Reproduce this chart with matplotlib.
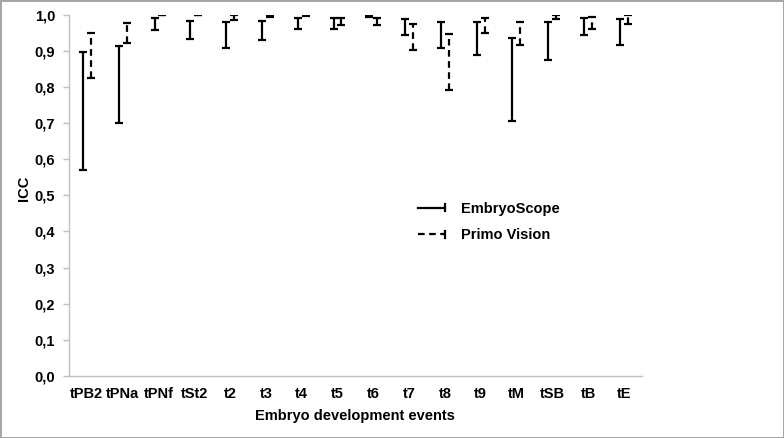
import matplotlib
matplotlib.use("Agg")
import matplotlib.pyplot as plt
import numpy as np
from matplotlib.legend_handler import HandlerBase
from matplotlib.lines import Line2D

categories = ['tPB2', 'tPNa', 'tPNf', 'tSt2', 't2', 't3', 't4', 't5', 't6',
              't7', 't8', 't9', 'tM', 'tSB', 'tB', 'tE']
es_low = [0.571, 0.699, 0.957, 0.934, 0.909, 0.929, 0.961, 0.961, 0.993,
          0.943, 0.908, 0.889, 0.706, 0.875, 0.945, 0.915]
es_high = [0.898, 0.914, 0.991, 0.983, 0.979, 0.983, 0.991, 0.991, 0.999,
           0.989, 0.980, 0.981, 0.935, 0.979, 0.991, 0.989]
pv_low = [0.825, 0.922, 0.998, 0.998, 0.986, 0.995, 0.997, 0.972, 0.972,
          0.901, 0.792, 0.949, 0.917, 0.989, 0.960, 0.974]
pv_high = [0.949, 0.977, 1.000, 1.000, 0.998, 1.000, 1.000, 0.991, 0.991,
           0.975, 0.946, 0.991, 0.980, 0.998, 0.995, 0.998]
yticks = [0.0, 0.1, 0.2, 0.3, 0.4, 0.5, 0.6, 0.7, 0.8, 0.9, 1.0]
series_labels = ['EmbryoScope', 'Primo Vision']

FS = 10.5
plt.rcParams['font.family'] = ['Liberation Sans', 'DejaVu Sans']
plt.rcParams['font.weight'] = 'bold'
plt.rcParams['font.size'] = FS

fig = plt.figure(figsize=(7.84, 4.38), dpi=100, edgecolor='#a6a6a6', linewidth=2)
ax = fig.add_axes([0.088, 0.1416, 0.7305, 0.8248])

x = np.arange(len(categories))
off = 0.11
dash = (0, (3, 2))


def draw(xpos, low, high, ls):
    low = np.array(low)
    high = np.array(high)
    mid = (low + high) / 2
    cont = ax.errorbar(xpos, mid, yerr=[mid - low, high - mid], fmt='none',
                       ecolor='black', elinewidth=1.6, capsize=3.2, capthick=1.6)
    for lc in cont[2]:
        lc.set_linestyle(ls)
    return cont


draw(x - off, es_low, es_high, '-')
draw(x + off, pv_low, pv_high, dash)

ax.set_xlim(-0.5, len(categories) - 0.5)
ax.set_ylim(0, 1.0)
ax.set_xticks(x)
ax.set_xticklabels(categories)
ax.set_yticks(yticks)
ax.set_yticklabels([f"{v:.1f}".replace('.', ',') for v in yticks])
ax.tick_params(axis='x', length=0, pad=8, labelsize=FS)
ax.tick_params(axis='y', length=4, width=1, color='#bfbfbf', pad=6, labelsize=FS)
for s in ['top', 'right']:
    ax.spines[s].set_visible(False)
for s in ['left', 'bottom']:
    ax.spines[s].set_color('#bfbfbf')
    ax.spines[s].set_linewidth(1)

ax.set_xlabel('Embryo development events', fontsize=FS, fontweight='bold', labelpad=6)
ax.set_ylabel('ICC', fontsize=FS, fontweight='bold')
ax.yaxis.set_label_coords(-0.066, 0.52)


class CapHandler(HandlerBase):
    def __init__(self, ls):
        super().__init__()
        self.ls = ls

    def create_artists(self, legend, orig_handle, xdescent, ydescent, width,
                       height, fontsize, trans):
        y = height / 2 - ydescent
        x0 = -xdescent
        x1 = width - xdescent
        line = Line2D([x0, x1], [y, y], color='black', lw=1.6, linestyle=self.ls,
                      transform=trans)
        cap = Line2D([x1, x1], [y - 2.5, y + 2.5], color='black', lw=1.6,
                     transform=trans)
        return [line, cap]


h1 = Line2D([], [])
h2 = Line2D([], [])
fig.legend([h1, h2], series_labels,
           handler_map={h1: CapHandler('-'), h2: CapHandler(dash)},
           loc='upper left', bbox_to_anchor=(0.517, 0.569), frameon=False,
           handlelength=1.85, handletextpad=1.1, labelspacing=0.85,
           prop={'weight': 'bold', 'size': FS})

fig.savefig('out.png', dpi=100, edgecolor=fig.get_edgecolor())
